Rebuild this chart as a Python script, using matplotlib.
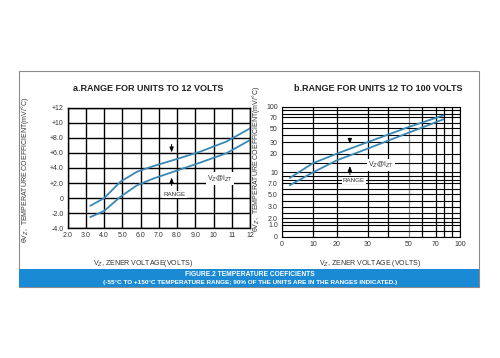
import numpy as np
import matplotlib
matplotlib.use("Agg")
import matplotlib.pyplot as plt
from matplotlib.patches import Rectangle

plt.rcParams['font.family'] = ['Liberation Sans', 'DejaVu Sans']

# chart a: units up to 12 V
left_vz = [3.25, 4.0, 4.9, 5.8, 6.7, 7.8, 9.25, 10.7, 12.0]
left_upper = [-1.0, 0.0, 2.2, 3.5, 4.25, 5.05, 6.15, 7.5, 9.25]
left_lower = [-2.5, -1.7, 0.2, 1.7, 2.6, 3.5, 4.7, 5.95, 7.7]
left_xticks = [2, 3, 4, 5, 6, 7, 8, 9, 10, 11, 12]
left_xlabels = ["2.0", "3.0", "4.0", "5.0", "6.0", "7.0", "8.0", "9.0", "10", "11", "12"]
left_yticks = [-4, -2, 0, 2, 4, 6, 8, 10, 12]
left_ylabels = ["-4.0", "-2.0", "0", "+2.0", "+4.0", "+6.0", "+8.0", "+10", "+12"]

# chart b: units 12 to 100 V (scanned paper, uneven scales)
right_vz = [2.6, 10, 20, 30, 50, 79]
right_upper = [8.5, 14.8, 20, 30, 52, 75]
right_lower = [6.7, 9.9, 16.4, 24.3, 43.5, 66]
right_xticks = [0, 10, 20, 30, 50, 70, 100]
right_xpos = [0, 0.174, 0.309, 0.481, 0.711, 0.865, 1.0]
right_xgrid = [0, 10, 20, 30, 40, 50, 60, 70, 80, 90, 100]
right_yticks = [0, 1, 2, 3, 5, 7, 10, 20, 30, 50, 70, 100]
right_ylabels = ["0", "1.0", "2.0", "3.0", "5.0", "7.0", "10", "20", "30", "50", "70", "100"]
right_ypos = [0, 0.092, 0.143, 0.231, 0.328, 0.410, 0.498, 0.639, 0.727, 0.834, 0.918, 1.0]
right_ygrid = [0, 0.5, 1, 1.5, 2, 2.5, 3, 4, 5, 6, 7, 8, 9, 10, 15, 20, 30, 40, 50, 60, 70, 80, 90, 100]

curve_color = "#3a88b5"
text_color = "#333333"
ylabel_text = "θV$_Z$,  TEMPERATURE COEFFICIENT(mV/°C)"

fig = plt.figure(figsize=(5, 3.58), dpi=100)

# outer frame and caption banner
fig.patches.append(Rectangle((0.038, 0.198), 0.92, 0.604, transform=fig.transFigure,
                             fill=False, edgecolor="#8a8a8a", lw=0.8))
fig.patches.append(Rectangle((0.038, 0.198), 0.92, 0.051, transform=fig.transFigure,
                             facecolor="#1a8ad4", edgecolor="none"))
fig.text(0.5, 0.234, "FIGURE.2 TEMPERATURE COEFICIENTS", ha="center", va="center",
         color="white", fontsize=4.8, fontweight="bold")
fig.text(0.5, 0.211, "(-55°C TO +150°C TEMPERATURE RANGE; 90% OF THE UNITS ARE IN THE RANGES INDICATED.)",
         ha="center", va="center", color="white", fontsize=4.6, fontweight="bold")

arrow_kw = dict(arrowstyle="-|>,head_width=0.12,head_length=0.3", color="black", lw=0.7)

# ---- left chart
ax1 = fig.add_axes([0.1354, 0.3623, 0.3646, 0.3369])
ax1.set_xlim(2, 12)
ax1.set_ylim(-4, 12)
ax1.set_xticks(left_xticks)
ax1.set_xticklabels(left_xlabels)
ax1.set_yticks(left_yticks)
ax1.set_yticklabels(left_ylabels)
ax1.grid(True, color="black", lw=1.0)
ax1.tick_params(length=0, labelsize=5, colors=text_color, pad=3)
for s in ax1.spines.values():
    s.set_linewidth(1.0)
ax1.plot(left_vz, left_upper, color=curve_color, lw=1.3)
ax1.plot(left_vz, left_lower, color=curve_color, lw=1.3)
ax1.annotate("", xy=(7.7, 5.7), xytext=(7.7, 7.5), arrowprops=arrow_kw)
ax1.annotate("", xy=(7.7, 3.1), xytext=(7.7, 1.3), arrowprops=arrow_kw)
ax1.text(7.85, 0.45, "RANGE", fontsize=4.5, ha="center", va="center", color=text_color,
         bbox=dict(facecolor="white", edgecolor="none", pad=0.8))
ax1.text(10.35, 2.6, "V$_Z$@I$_{ZT}$", fontsize=5, ha="center", va="center", color=text_color,
         bbox=dict(facecolor="white", edgecolor="none", pad=0.8))
ax1.text(0.44, 1.16, "a.RANGE FOR UNITS TO 12 VOLTS", transform=ax1.transAxes,
         fontsize=6.5, fontweight="bold", color="#222222", ha="center", va="center")
ax1.set_xlabel("V$_Z$, ZENER VOLTAGE(VOLTS)", fontsize=5, color=text_color)
ax1.xaxis.set_label_coords(0.413, -0.246)
ax1.set_ylabel(ylabel_text, fontsize=5, color=text_color)
ax1.yaxis.set_label_coords(-0.199, 0.483)

# ---- right chart
def fwd_x(v):
    return np.interp(v, right_xticks, right_xpos)

def inv_x(f):
    return np.interp(f, right_xpos, right_xticks)

def fwd_y(v):
    return np.interp(v, right_yticks, right_ypos)

def inv_y(f):
    return np.interp(f, right_ypos, right_yticks)

ax2 = fig.add_axes([0.564, 0.338, 0.356, 0.3645])
ax2.set_xscale("function", functions=(fwd_x, inv_x))
ax2.set_yscale("function", functions=(fwd_y, inv_y))
ax2.set_xlim(0, 100)
ax2.set_ylim(0, 100)
ax2.set_xticks(right_xticks)
ax2.set_xticklabels([str(v) for v in right_xticks])
ax2.set_yticks(right_yticks)
ax2.set_yticklabels(right_ylabels)
ax2.set_xticks(right_xgrid, minor=True)
ax2.set_yticks(right_ygrid, minor=True)
ax2.tick_params(which="both", length=0, labelsize=5, colors=text_color, pad=3)
for v in right_xgrid:
    ax2.axvline(v, color="#888888" if v == 50 else "black", lw=0.9)
for v in right_ygrid:
    ax2.axhline(v, color="black", lw=0.8)
ax2.plot(right_vz, right_upper, color=curve_color, lw=1.3)
ax2.plot(right_vz, right_lower, color=curve_color, lw=1.3)
ax2.annotate("", xy=(24.2, 26), xytext=(24.2, 40), arrowprops=arrow_kw)
ax2.annotate("", xy=(24.2, 14.8), xytext=(24.2, 8.6), arrowprops=arrow_kw)
ax2.text(25.5, 7.7, "RANGE", fontsize=4.5, ha="center", va="center", color=text_color,
         bbox=dict(facecolor="white", edgecolor="none", pad=0.8))
ax2.text(36.4, 13.7, "V$_Z$@I$_{ZT}$", fontsize=5, ha="center", va="center", color=text_color,
         bbox=dict(facecolor="white", edgecolor="none", pad=0.8))
ax2.text(0.54, 1.14, "b.RANGE FOR UNITS 12 TO 100 VOLTS", transform=ax2.transAxes,
         fontsize=6.5, fontweight="bold", color="#222222", ha="center", va="center")
ax2.set_xlabel("V$_Z$, ZENER VOLTAGE (VOLTS)", fontsize=5, color=text_color)
ax2.xaxis.set_label_coords(0.494, -0.16)
ax2.set_ylabel(ylabel_text, fontsize=5, color=text_color)
ax2.yaxis.set_label_coords(-0.112, 0.6)

fig.savefig("out.png", dpi=100)
